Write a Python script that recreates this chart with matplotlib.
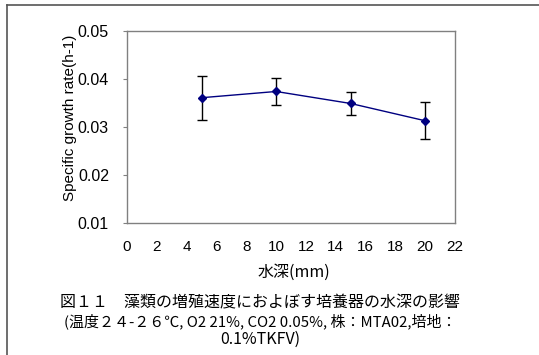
import matplotlib
matplotlib.use("Agg")
import matplotlib.pyplot as plt
from matplotlib.lines import Line2D

plt.rcParams['font.family'] = ['Liberation Sans', 'Noto Sans CJK JP', 'DejaVu Sans']

# water depth (mm) vs specific growth rate
depth = [5, 10, 15, 20]
rate = [0.0361, 0.0374, 0.0349, 0.0313]
rate_err = [0.0046, 0.0028, 0.0024, 0.0039]

x_ticks = list(range(0, 23, 2))
y_ticks = [0.01, 0.02, 0.03, 0.04, 0.05]

fig = plt.figure(figsize=(5.39, 3.55), dpi=100)
ax = fig.add_axes([127 / 539, 1 - 223 / 355, 328 / 539, 192 / 355])

ax.errorbar(depth, rate, yerr=rate_err, color="#000080", marker="D", ms=4.5,
            lw=1.0, ecolor="black", elinewidth=1.0, capsize=3.5, capthick=1.0)

ax.set_xlim(0, 22)
ax.set_ylim(0.01, 0.05)
ax.set_xticks(x_ticks)
ax.set_yticks(y_ticks)
ax.set_yticklabels([f"{v:.2f}" for v in y_ticks])
ax.tick_params(axis="x", length=0, pad=12, labelsize=11)
ax.tick_params(axis="y", length=3, width=0.8, color="#808080", pad=10, labelsize=11.5)
for s in ax.spines.values():
    s.set_color("#808080")
    s.set_linewidth(1.0)

ax.set_ylabel("Specific growth rate(h-1)", fontsize=11)
ax.yaxis.set_label_coords(-0.152, 0.55)

fig.text(294 / 539, 1 - 272 / 355, "水深(mm)", ha="center", va="center",
         fontsize=11.5, family=["Noto Sans CJK JP"])

caption = [
    "図１１　藻類の増殖速度におよぼす培養器の水深の影響",
    "(温度２４-２６℃, O2 21%, CO2 0.05%, 株：MTA02,培地：",
    "0.1%TKFV)",
]
for line, y, fs in zip(caption, [303, 321, 339], [11.5, 10.8, 11.5]):
    fig.text(260 / 539, 1 - y / 355, line, ha="center", va="center",
             fontsize=fs, family=["Noto Sans CJK JP", "DejaVu Sans"])

# outer frame, left and top edges
fig.add_artist(Line2D([7 / 539, 7 / 539], [0, 1 - 5 / 355], transform=fig.transFigure,
                      color="#555555", lw=1.2))
fig.add_artist(Line2D([7 / 539, 1], [1 - 5 / 355, 1 - 5 / 355], transform=fig.transFigure,
                      color="#555555", lw=1.2))

fig.savefig("out.png", dpi=100)
